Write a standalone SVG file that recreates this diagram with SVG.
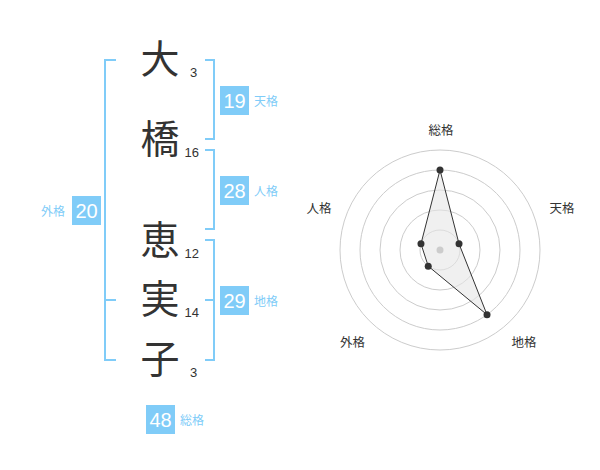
<svg xmlns="http://www.w3.org/2000/svg" width="600" height="470" viewBox="0 0 600 470">
<style>
.kanji{font-family:"Noto Sans CJK JP","Noto Sans",sans-serif;font-size:39px;fill:#333;text-anchor:middle}
.num{font-family:"Liberation Sans",Arial,sans-serif;font-size:13px;fill:#333}
.br{fill:none;stroke:#80ccf8;stroke-width:2}
.box{fill:#80ccf8}
.bt{font-family:"Liberation Sans",Arial,sans-serif;font-size:20px;fill:#fff;text-anchor:middle}
.bl{font-family:"Noto Sans CJK JP",sans-serif;font-size:12px;fill:#80ccf8}
.ring{fill:none;stroke:#ccc;stroke-width:1}
.rl{font-family:"Noto Sans CJK JP",sans-serif;font-size:12.5px;fill:#333;text-anchor:middle}
.dot{fill:#333}
</style>
<rect width="600" height="470" fill="#fff"/>
<g id="connectors">
<path class="br" d="M116,60 H105 V360 H116 M105,300 H116"/>
<path class="br" d="M205,60 H214 V139 H205"/>
<path class="br" d="M205,150 H214 V229 H205"/>
<path class="br" d="M205,240 H214 V360 H205 M214,300 H205"/>
</g>
<g id="char1"><text class="kanji" x="160" y="73">大</text><text class="num" x="190" y="77">3</text></g>
<g id="char2"><text class="kanji" x="160" y="153">橋</text><text class="num" x="184.5" y="157">16</text></g>
<g id="char3"><text class="kanji" x="160" y="254">恵</text><text class="num" x="184.5" y="258">12</text></g>
<g id="char4"><text class="kanji" x="160" y="313">実</text><text class="num" x="184.5" y="317">14</text></g>
<g id="char5"><text class="kanji" x="160" y="373">子</text><text class="num" x="190" y="377">3</text></g>
<g id="tenkaku"><rect class="box" x="220" y="86" width="29" height="29"/><text class="bt" x="234.5" y="107.5">19</text><text class="bl" x="254" y="106">天格</text></g>
<g id="jinkaku"><rect class="box" x="220" y="176" width="29" height="29"/><text class="bt" x="234.5" y="197.5">28</text><text class="bl" x="254" y="196">人格</text></g>
<g id="chikaku"><rect class="box" x="220" y="286" width="29" height="29"/><text class="bt" x="234.5" y="307.5">29</text><text class="bl" x="254" y="306">地格</text></g>
<g id="gaikaku"><rect class="box" x="72" y="196" width="29" height="29"/><text class="bt" x="86.5" y="217.5">20</text><text class="bl" x="41" y="216">外格</text></g>
<g id="soukaku"><rect class="box" x="146" y="405" width="29" height="29"/><text class="bt" x="160.5" y="426.5">48</text><text class="bl" x="180" y="425">総格</text></g>
<g id="radar">
<circle class="ring" cx="440" cy="250" r="100"/>
<circle class="ring" cx="440" cy="250" r="80"/>
<circle class="ring" cx="440" cy="250" r="60"/>
<circle class="ring" cx="440" cy="250" r="40"/>
<circle class="ring" cx="440" cy="250" r="20"/>
<polygon points="440,170 459.02,243.82 487.02,314.72 428.24,266.18 420.98,243.82" fill="#e6e6e6" fill-opacity="0.6" stroke="#333" stroke-width="1"/>
<circle cx="440" cy="250" r="3.5" fill="#ccc"/>
<circle class="dot" cx="440" cy="170" r="3.5"/>
<circle class="dot" cx="459.02" cy="243.82" r="3.5"/>
<circle class="dot" cx="487.02" cy="314.72" r="3.5"/>
<circle class="dot" cx="428.24" cy="266.18" r="3.5"/>
<circle class="dot" cx="420.98" cy="243.82" r="3.5"/>
<text class="rl" x="441" y="135">総格</text>
<text class="rl" x="562" y="213">天格</text>
<text class="rl" x="319" y="213">人格</text>
<text class="rl" x="352.5" y="347">外格</text>
<text class="rl" x="524" y="347">地格</text>
</g>
</svg>
